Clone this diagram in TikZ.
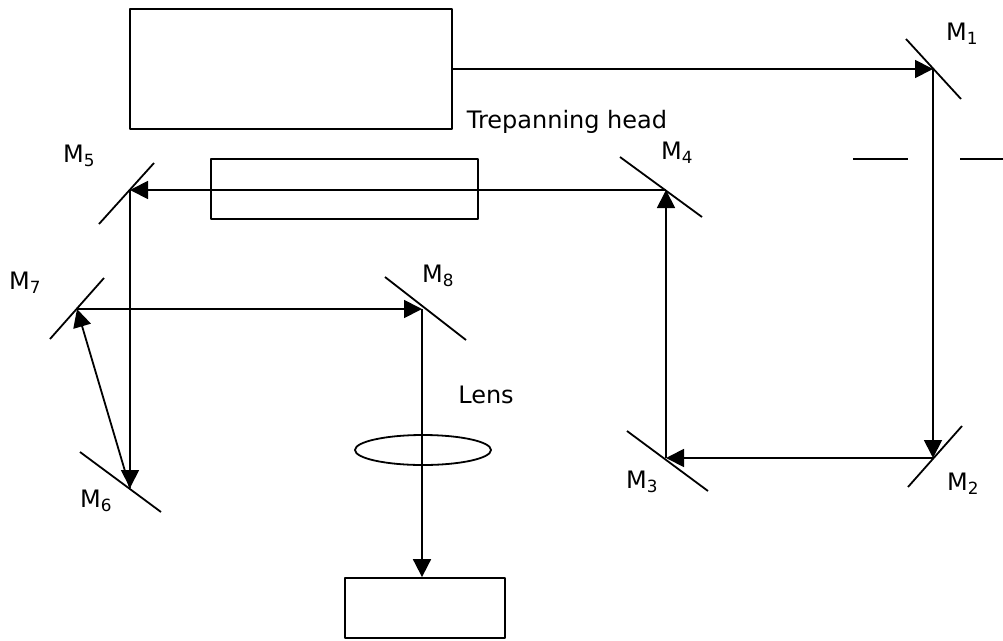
\documentclass[tikz,border=0pt]{standalone}
\usepackage{fontspec}
\setmainfont{DejaVu Sans}
\usetikzlibrary{arrows.meta,shapes.geometric}
\tikzset{
  box/.style={draw,line width=1.8pt,minimum width=#1,inner sep=0pt},
  lab/.style={inner sep=0pt,font=\fontsize{24pt}{26pt}\selectfont},
  beam/.style={line width=1.8pt,-{Triangle[length=18pt,width=18pt]}},
  mirror/.style={line width=1.8pt}
}
\newcommand{\Mlab}[1]{M\textsubscript{#1}}
\begin{document}
\begin{tikzpicture}[x=1pt,y=-1pt,line join=round]
    \useasboundingbox (0,0) rectangle (1003,640);
    % boxes
    \node[box=322pt,minimum height=120pt] (laser) at (291,69) {};
    \node[box=267pt,minimum height=60pt] (head) at (344.5,189) {};
    \node[box=160pt,minimum height=60pt] (work) at (425,608) {};
    \node[draw,ellipse,line width=1.8pt,minimum width=136pt,minimum height=30pt,inner sep=0pt] (lens) at (423,450) {};
    % mirrors
    \coordinate (m1) at (933,69); \coordinate (m2) at (933,458);
    \coordinate (m3) at (666,458); \coordinate (m4) at (666,190);
    \coordinate (m5) at (130,190); \coordinate (m6) at (130,488);
    \coordinate (m7) at (77,309); \coordinate (m8) at (422,309);
    \draw[mirror] (906,39)--(961,99) (908,487)--(962,426);
    \draw[mirror] (627,431)--(708,491) (620,157)--(702,217);
    \draw[mirror] (99,224)--(154,163) (80,452)--(161,512);
    \draw[mirror] (50,339)--(104,278) (385,277)--(466,340);
    % aperture
    \coordinate (apl) at (853,159); \coordinate (apm) at (908,159);
    \coordinate (apn) at (960,159); \coordinate (apr) at (1003,159);
    \draw[mirror] (apl)--(apm) (apn)--(apr);
    % beam path
    \draw[beam] (laser.east|-m1)--(m1);
    \draw[beam] (m1)--(m2);
    \draw[beam] (m2)--(m3);
    \draw[beam] (m3)--(m4);
    \draw[beam] (m4)--(m5);
    \draw[beam] (m5)--(m6);
    \draw[beam] (m6)--(m7);
    \draw[beam] (m7)--(m8);
    \draw[beam] (m8)--(m8|-work.north);
    % labels
    \node[lab] (l1) at (962,34) {\Mlab{1}};
    \node[lab] (l2) at (963,484) {\Mlab{2}};
    \node[lab] (l3) at (642,482) {\Mlab{3}};
    \node[lab] (l4) at (677,153) {\Mlab{4}};
    \node[lab] (l5) at (79,156) {\Mlab{5}};
    \node[lab] (l6) at (96,501) {\Mlab{6}};
    \node[lab] (l7) at (25,283) {\Mlab{7}};
    \node[lab] (l8) at (438,276) {\Mlab{8}};
    \node[lab] (trep) at (567,122) {Trepanning head};
    \node[lab] (lenslab) at (486,395) {Lens};
\end{tikzpicture}
\end{document}
